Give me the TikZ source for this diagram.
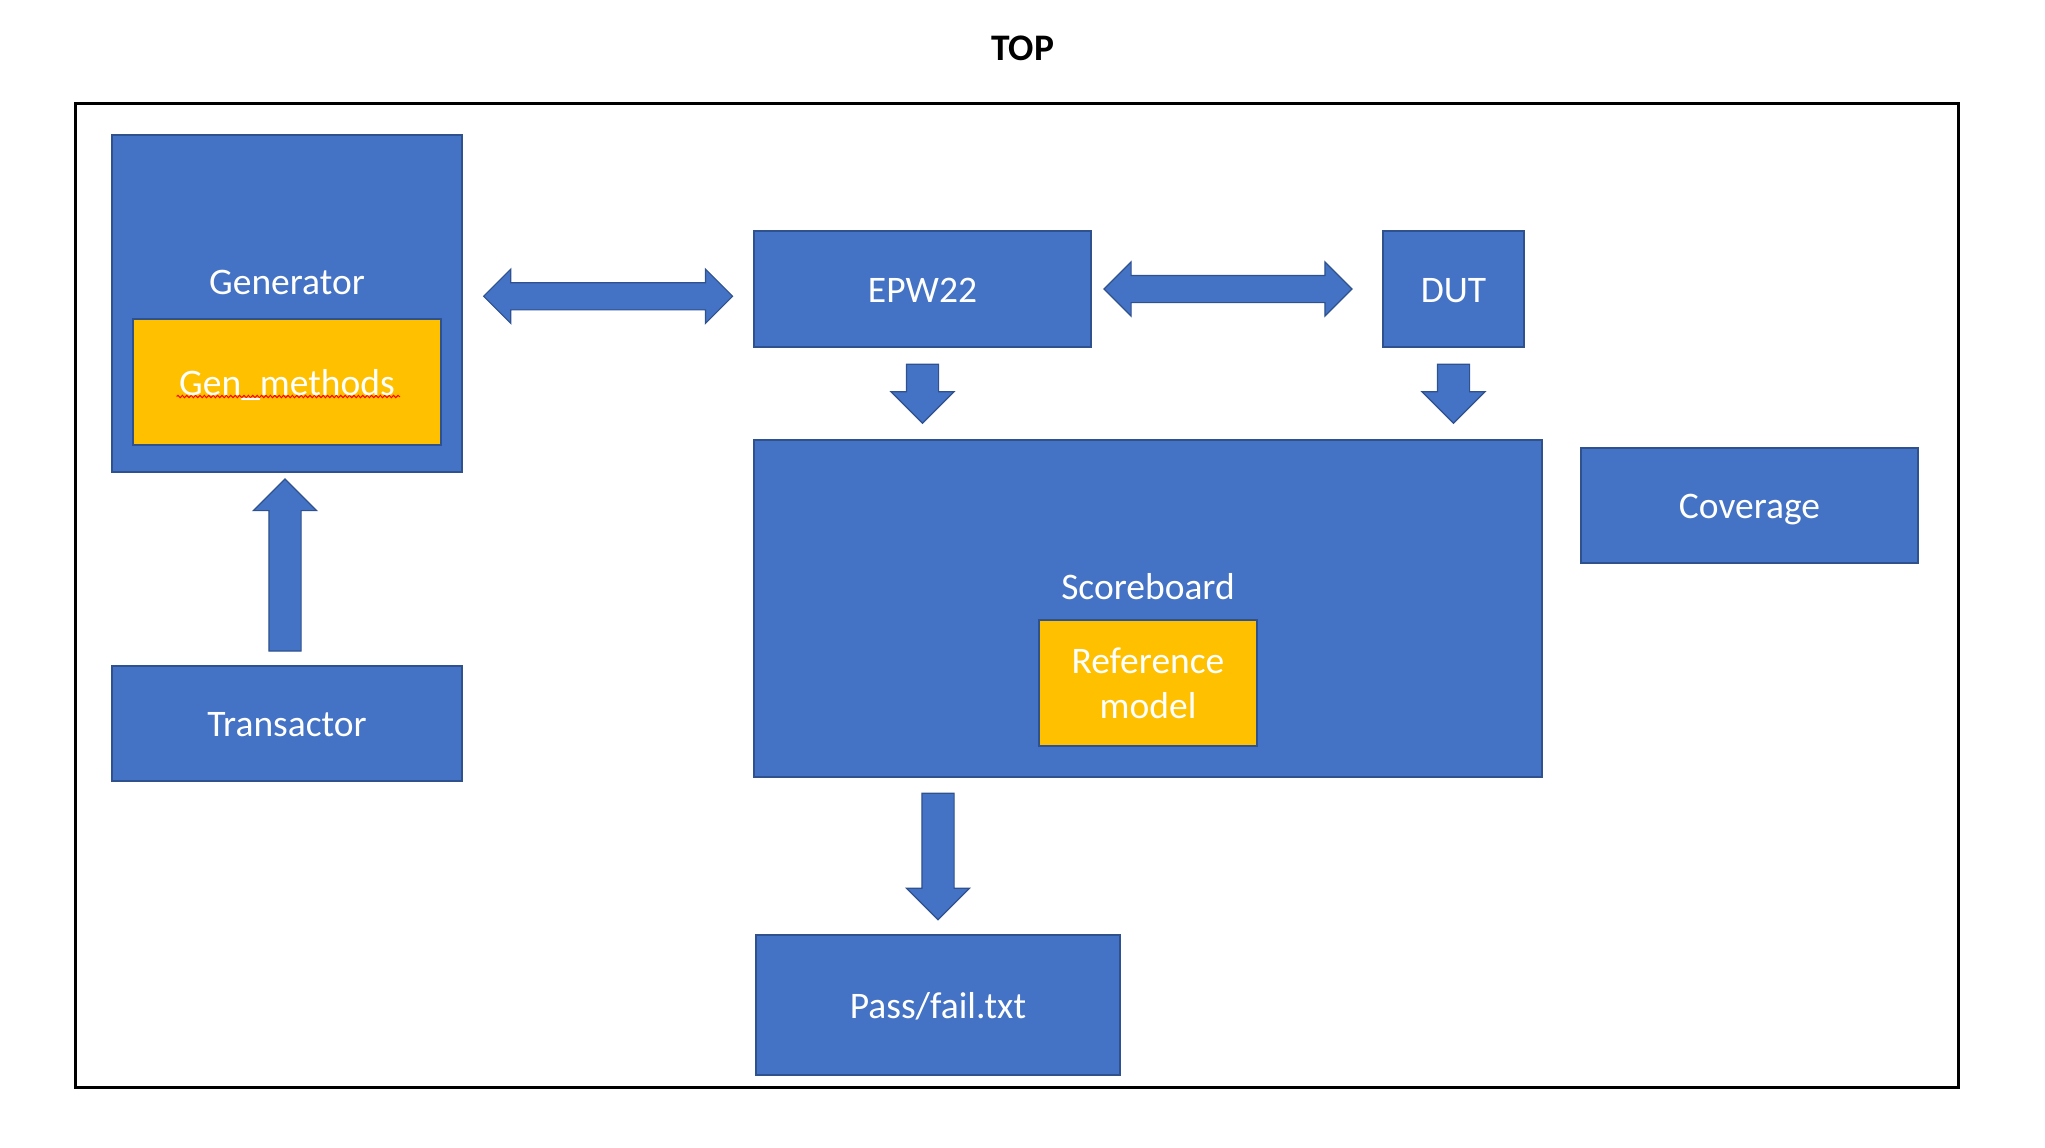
\documentclass[tikz,border=0pt]{standalone}
\usepackage{fontspec}
\setmainfont{Carlito}
\usepackage{tikz}
\usetikzlibrary{shapes.arrows, positioning, calc, decorations.pathmorphing}

\definecolor{boxblue}{HTML}{4472C4}
\definecolor{boxedge}{HTML}{2F528F}
\definecolor{boxgold}{HTML}{FFC000}
\newcommand{\bigfont}{\fontsize{18.75pt}{22.5pt}\selectfont}

\tikzstyle{block} = [rectangle, minimum width=168.5pt, minimum height=57.75pt, text centered, align=center, draw=boxedge, line width=1pt, fill=boxblue, text=white, font=\bigfont, inner sep=0pt, outer sep=0pt]
\tikzstyle{goldblock} = [block, fill=boxgold]
\tikzstyle{oneline} = [text height=13.2pt, text depth=0pt]
\tikzstyle{boxtext} = [text=white, font=\bigfont, inner sep=0pt]
\tikzstyle{downarrow} = [single arrow, draw=boxedge, fill=boxblue, line width=0.6pt, inner xsep=7.75pt, inner ysep=0pt, single arrow head extend=7.75pt, outer sep=0pt, anchor=tail, shape border rotate=270]
\tikzstyle{uparrow} = [downarrow, shape border rotate=90]
\tikzstyle{twoway} = [double arrow, draw=boxedge, fill=boxblue, line width=0.6pt, inner xsep=0pt, inner ysep=6.5pt, double arrow head extend=6.75pt, outer sep=0pt, minimum height=124.5pt]
\tikzstyle{squiggle} = [red, line width=0.5pt, decorate, decoration={snake, amplitude=0.6pt, segment length=2.2pt}]

\begin{document}
\begin{tikzpicture}
\useasboundingbox (0,0) rectangle (1022.5pt,-573.5pt);

% Title and outer frame
\node (title) at (511.25pt,-24pt) {\bigfont\textbf{TOP}};
\node (frame) [draw, line width=1.5pt, minimum width=941.2pt, minimum height=492pt] at (508.4pt,-297.5pt) {};

% Blocks
\node (gen) [block, minimum width=175.25pt, minimum height=168.5pt] at (143.5pt,-151.75pt) {};
\node (gm) [goldblock, minimum width=154pt, minimum height=63pt, below=7.75pt of gen.center] {};
\draw [squiggle] ($(gm.center)+(-55.2pt,-7.25pt)$) -- ($(gm.center)+(56.5pt,-7.25pt)$);
\node (gmtext) [boxtext, oneline] at (gm.center) {Gen\_methods};
\node (genlabel) [boxtext] at (gm.north) [yshift=18.5pt] {Generator};
\node (trans) [block, oneline, minimum width=175.25pt, minimum height=57.5pt, below=97pt of gen] {Transactor};
\node (epw) [block, oneline] at (461.25pt,-144.5pt) {EPW22};
\node (dut) [block, oneline, minimum width=70.5pt, right=146pt of epw] {DUT};
\node (score) [block, minimum width=394pt, minimum height=168.5pt, below=46.75pt of epw.south west, anchor=north west] {};
\node (refm) [goldblock, minimum width=109pt, minimum height=62.75pt, below=5.75pt of score.center] {Reference\\model};
\node (sclabel) [boxtext] at (refm.north) [yshift=17pt] {Scoreboard};
\node (cover) [block, oneline, minimum height=57.5pt, right=19.5pt of score.north east, anchor=north west, yshift=-4pt] {Coverage};
\node (pass) [block, oneline, minimum width=182pt, minimum height=70pt, below=79pt of score.south west, anchor=north west, xshift=1pt] {Pass/fail.txt};

% Block arrows
\node (a1) [twoway] at ($(gen.east)!0.5!(epw.west)$) {};
\node (a2) [twoway, minimum height=124pt] at ($(epw.east)!0.5!(dut.west)$) [xshift=-4.5pt] {};
\node (a3) [downarrow, minimum height=29.5pt] at (epw.south) [yshift=-8.75pt] {};
\node (a4) [downarrow, minimum height=29.5pt] at (dut.south) [yshift=-8.75pt] {};
\node (a5) [uparrow, minimum height=86pt] at (trans.north) [yshift=7.5pt, xshift=-1pt] {};
\node (a6) [downarrow, minimum height=63.25pt] at (pass.north |- score.south) [yshift=-8pt] {};

\end{tikzpicture}
\end{document}
